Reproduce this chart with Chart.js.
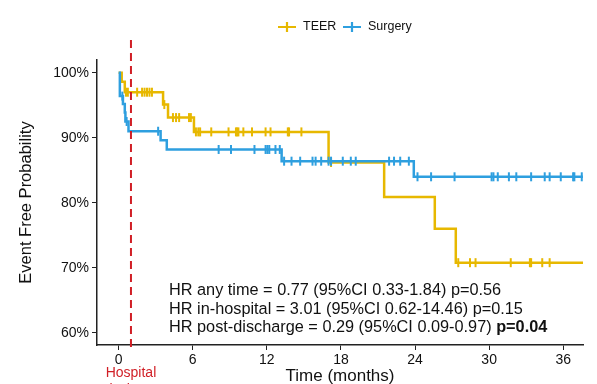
<!DOCTYPE html>
<html>
<head>
<meta charset="utf-8">
<script src="https://cdn.jsdelivr.net/npm/chart.js@4.4.1/dist/chart.umd.min.js"></script>
<style>
  html, body { margin: 0; padding: 0; background: #fff; overflow: hidden; }
  #wrap { width: 597px; height: 384px; overflow: hidden; }
</style>
</head>
<body>
<div id="wrap"><canvas id="km" width="597" height="400"></canvas></div>
<script>
// Kaplan-Meier steps (months, % event free)
const teerTimes = [0, 0.25, 0.5, 3.6, 4.0, 6.1, 17.0, 21.5, 25.6, 27.3, 37.6];
const teerSurv  = [100, 98.6, 97.0, 95.1, 93.1, 90.9, 86.2, 80.9, 76.0, 70.8, 70.8];
const surgTimes = [0, 0.1, 0.35, 0.5, 0.55, 0.8, 3.4, 3.9, 13.2, 23.9, 37.6];
const surgSurv  = [100, 96.4, 95.2, 93.9, 92.5, 91.0, 89.6, 88.2, 86.4, 84.0, 84.0];

// censored follow-up times
const teerCensor = [0.6, 0.75, 1.5, 1.9, 2.1, 2.3, 2.5, 2.7, 3.7, 4.4, 4.65, 4.9, 5.7, 5.85,
  6.26, 6.45, 6.6, 7.5, 8.9, 9.5, 9.6, 9.7, 10.1, 10.8, 11.9, 12.3, 13.7, 13.8, 14.8, 17.2,
  27.5, 28.45, 28.9, 31.75, 33.3, 33.4, 34.3, 34.9];
const surgCensor = [0.3, 0.65, 3.2, 8.1, 9.1, 11.0, 11.9, 12.05, 12.2, 12.7, 13.05, 13.4, 14.0,
  14.7, 15.7, 15.95, 16.4, 17.0, 17.2, 18.15, 18.8, 19.2, 21.9, 22.3, 22.8, 23.5, 24.2, 25.3,
  27.2, 30.2, 30.35, 30.7, 31.6, 32.2, 33.4, 34.5, 34.9, 35.8, 36.8, 36.9, 37.5];

const xTicks = [0, 6, 12, 18, 24, 30, 36];
const yTicks = [60, 70, 80, 90, 100];
const dischargeMonth = 1;

const hrLines = [
  ["HR any time = 0.77 (95%CI 0.33-1.84) p=0.56", ""],
  ["HR in-hospital = 3.01 (95%CI 0.62-14.46) p=0.15", ""],
  ["HR post-discharge = 0.29 (95%CI 0.09-0.97) ", "p=0.04"]
];

const TEER_COL = "#E7B800";
const SURG_COL = "#2E9FDF";
const RED = "#D11F26";
const FONT = "'Liberation Sans', Arial, sans-serif";

function steps(times, surv) {
  return times.map((t, i) => ({ x: t, y: surv[i] }));
}
function survAt(times, surv, t) {
  let s = surv[0];
  for (let i = 0; i < times.length; i++) if (times[i] <= t) s = surv[i];
  return s;
}
function censorPts(cens, times, surv) {
  return cens.map(t => ({ x: t, y: survAt(times, surv, t) }));
}

const overlay = {
  id: "overlay",
  afterDatasetsDraw(chart) {
    const { ctx, scales: { x, y } } = chart;
    const dx = x.getPixelForValue(dischargeMonth);

    // discharge marker
    ctx.save();
    ctx.strokeStyle = RED;
    ctx.lineWidth = 2;
    ctx.setLineDash([8, 5]);
    ctx.beginPath();
    ctx.moveTo(dx, 40);
    ctx.lineTo(dx, 352);
    ctx.stroke();
    ctx.restore();

    ctx.save();
    ctx.fillStyle = RED;
    ctx.font = "14px " + FONT;
    ctx.textAlign = "center";
    ctx.textBaseline = "middle";
    ctx.fillText("Hospital", dx, 373);
    ctx.fillText("Discharge", dx, 390);
    ctx.restore();

    // hazard ratios
    ctx.save();
    ctx.fillStyle = "#111";
    ctx.textBaseline = "middle";
    const tx = 169;
    hrLines.forEach((ln, i) => {
      const ty = 291 + i * 18.5;
      ctx.font = "16.3px " + FONT;
      ctx.fillText(ln[0], tx, ty);
      if (ln[1]) {
        const w = ctx.measureText(ln[0]).width;
        ctx.font = "bold 16.3px " + FONT;
        ctx.fillText(ln[1], tx + w, ty);
      }
    });
    ctx.restore();

    // legend
    ctx.save();
    ctx.lineWidth = 2.2;
    ctx.textBaseline = "middle";
    ctx.font = "12.5px " + FONT;
    ctx.fillStyle = "#111";
    const ly = 27;
    [[TEER_COL, "TEER", 278], [SURG_COL, "Surgery", 343]].forEach(([c, label, lx]) => {
      ctx.strokeStyle = c;
      ctx.beginPath();
      ctx.moveTo(lx, ly); ctx.lineTo(lx + 18, ly);
      ctx.moveTo(lx + 9, ly - 5); ctx.lineTo(lx + 9, ly + 5);
      ctx.stroke();
      ctx.fillText(label, lx + 25, ly);
    });
    ctx.restore();
  }
};

new Chart(document.getElementById("km"), {
  type: "line",
  data: {
    datasets: [
      {
        label: "Surgery",
        data: steps(surgTimes, surgSurv),
        borderColor: SURG_COL,
        borderWidth: 2.5,
        stepped: true,
        pointRadius: 0,
        order: 0
      },
      {
        label: "Surgery censored",
        data: censorPts(surgCensor, surgTimes, surgSurv),
        showLine: false,
        pointStyle: "line",
        rotation: 90,
        pointRadius: 4.5,
        pointBorderWidth: 2,
        pointBorderColor: SURG_COL,
        order: 0
      },
      {
        label: "TEER",
        data: steps(teerTimes, teerSurv),
        borderColor: TEER_COL,
        borderWidth: 2.5,
        stepped: true,
        pointRadius: 0,
        order: 1
      },
      {
        label: "TEER censored",
        data: censorPts(teerCensor, teerTimes, teerSurv),
        showLine: false,
        pointStyle: "line",
        rotation: 90,
        pointRadius: 4.5,
        pointBorderWidth: 2,
        pointBorderColor: TEER_COL,
        order: 1
      }
    ]
  },
  options: {
    responsive: false,
    animation: false,
    layout: { padding: { top: 60, right: 14, left: 0, bottom: 0 } },
    plugins: { legend: { display: false }, tooltip: { enabled: false } },
    scales: {
      x: {
        type: "linear",
        min: -1.75,
        max: 37.6,
        afterFit: s => { s.height = 55; },
        afterBuildTicks: s => { s.ticks = xTicks.map(v => ({ value: v })); },
        border: { color: "#222", width: 1.5 },
        grid: { drawOnChartArea: false, tickLength: 5, color: "#222" },
        ticks: { color: "#111", font: { family: FONT, size: 14 }, padding: 2, maxRotation: 0 },
        title: {
          display: true,
          text: "Time (months)",
          color: "#111",
          font: { family: FONT, size: 17 },
          padding: { top: 0, bottom: 13 }
        }
      },
      y: {
        min: 58.15,
        max: 101.95,
        afterFit: s => { s.width = 97; },
        afterBuildTicks: s => { s.ticks = yTicks.map(v => ({ value: v })); },
        border: { color: "#222", width: 1.5 },
        grid: { drawOnChartArea: false, tickLength: 5, color: "#222" },
        ticks: { color: "#111", font: { family: FONT, size: 14 }, padding: 3, callback: v => v + "%" },
        title: {
          display: true,
          text: "Event Free Probability",
          color: "#111",
          font: { family: FONT, size: 16.5 },
          padding: { top: 17, bottom: 0 }
        }
      }
    }
  },
  plugins: [overlay]
});
</script>
</body>
</html>
